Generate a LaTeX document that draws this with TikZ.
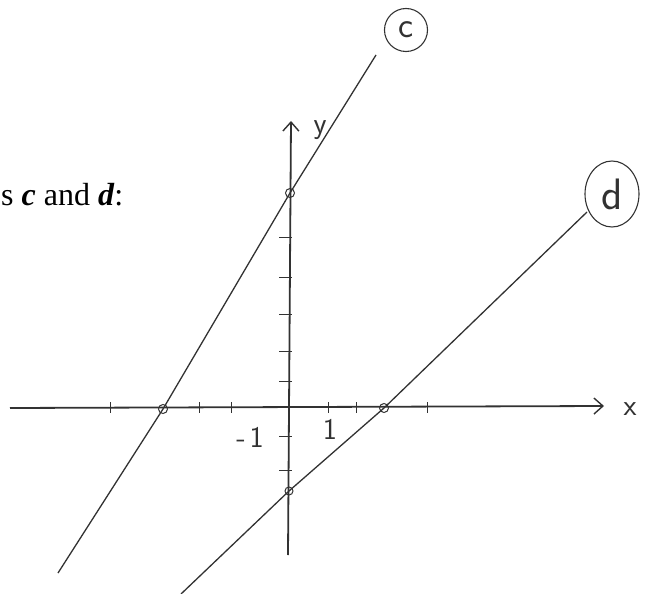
\documentclass[tikz,border=0pt]{standalone}
\usepackage{fontspec}
\usepackage{tikz}
\usetikzlibrary{positioning, arrows.meta, shapes.geometric, calc}
\newfontfamily\printfont{Liberation Serif}
\definecolor{pencil}{RGB}{50,50,50}

\begin{document}
\begin{tikzpicture}[
			x=1pt, y=-1pt,
			axis/.style={line width=1.8pt, draw=pencil},
			graph line/.style={line width=1.3pt, draw=pencil},
			tickmark/.style={line width=1pt, draw=pencil},
			dot/.style={circle, draw=pencil, line width=1pt, inner sep=0pt, minimum size=9pt},
			tag/.style={draw=pencil, line width=1.1pt, inner sep=0pt, text=pencil},
			hand/.style={text=pencil, inner sep=0pt, font=\sffamily\fontsize{30}{34}\selectfont}
			]
			\useasboundingbox (0,0) rectangle (649,594);
			
			% --- Heading text (cut off at the left) ---
			\node[anchor=base west, inner sep=0pt, font=\printfont\fontsize{32}{38}\selectfont] (head) at (1,205) {s \textbf{\textit{c}} and \textbf{\textit{d}}:};
			
			% --- AXES ---
			\coordinate (xl) at (10,408);
			\coordinate (xr) at (604,406);
			\coordinate (yb) at (288,555);
			\coordinate (yt) at (291,121);
			\draw[axis, -{Straight Barb[length=9pt, width=16pt, line width=1.4pt]}] (xl) -- (xr);
			\draw[axis, -{Straight Barb[length=9pt, width=16pt, line width=1.4pt]}] (yb) -- (yt);
			\node[hand] (xlab) at (630,409) {x};
			\node[hand] (ylab) at (320,130) {y};
			
			% Ticks
			\foreach \tx in {110,199,231,328,356,427}
				\draw[tickmark] (\tx,402) -- (\tx,413);
			\foreach \ty in {237,277,314,351,381,436,470}
				\draw[tickmark] (279,\ty) -- (292,\ty);
			
			\node[hand] (mone) at (250,437) {-\hspace{4pt}1};
			\node[hand] (pone) at (330,429) {1};
			
			% --- LINE c ---
			\coordinate (c0) at (58,573);
			\node[dot] (cx) at (163,409) {};
			\node[dot] (cy) at (290,193) {};
			\coordinate (c1) at (376,55);
			\draw[graph line] (c0) -- (cx.center) -- (cy.center) -- (c1);
			\node[tag, circle, minimum size=43pt, font=\sffamily\fontsize{36}{40}\selectfont] (ctag) at (406,30) {c};
			
			% --- LINE d ---
			\coordinate (d0) at (181,594);
			\node[dot, minimum size=8pt] (dy) at (289,491) {};
			\node[dot] (dx) at (384,408) {};
			\coordinate (d1) at (587,212);
			\draw[graph line] (d0) -- (dy.center) -- (dx.center) -- (d1);
			\node[tag, ellipse, minimum width=54pt, minimum height=66pt, font=\sffamily\fontsize{44}{48}\selectfont] (dtag) at (612,194) {d};
			
		\end{tikzpicture}
\end{document}
